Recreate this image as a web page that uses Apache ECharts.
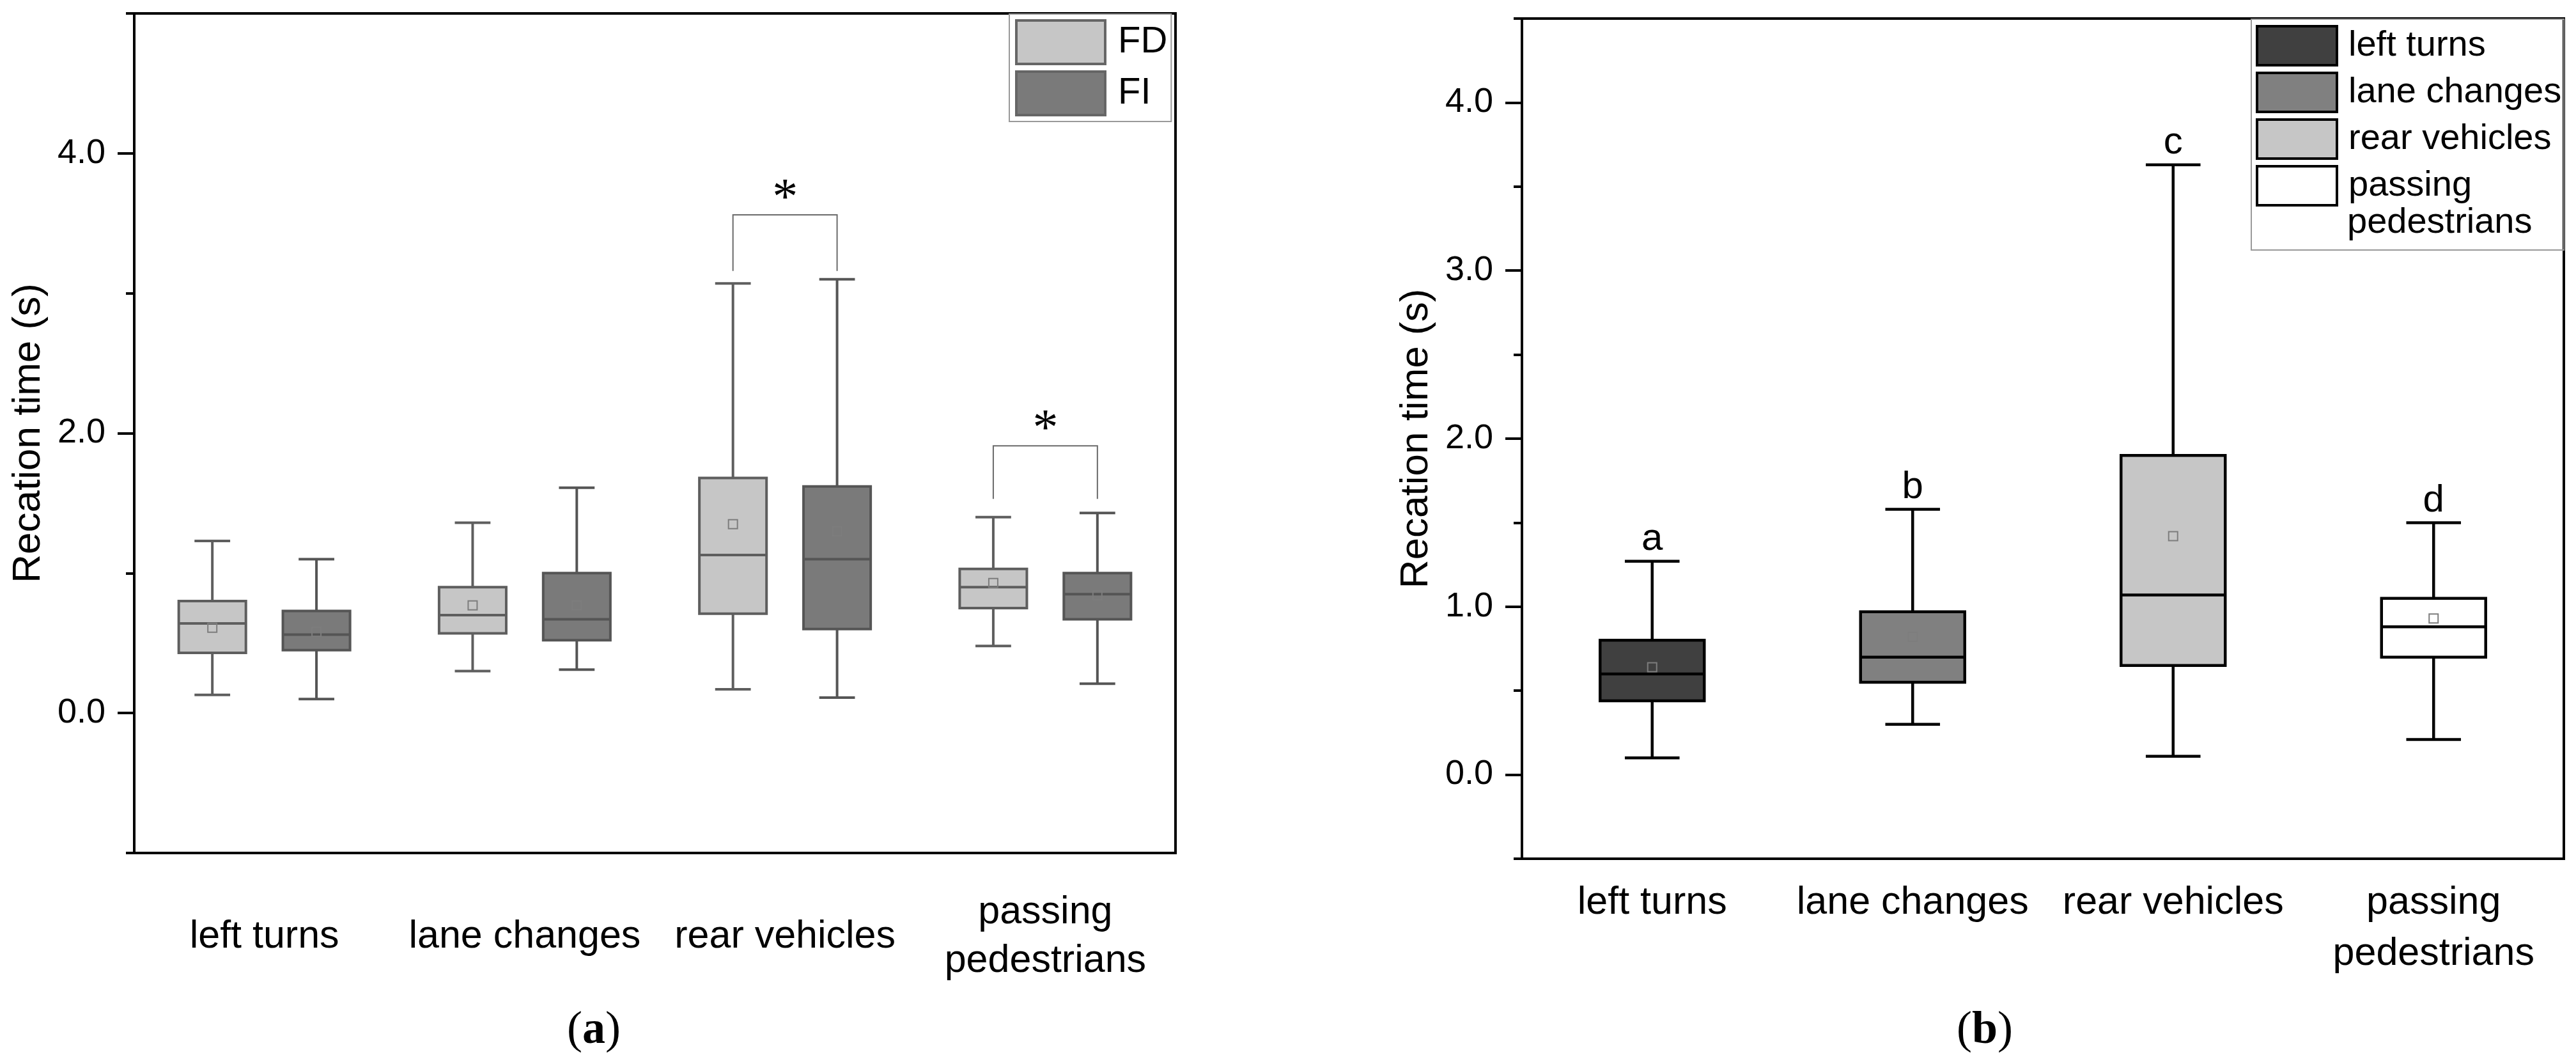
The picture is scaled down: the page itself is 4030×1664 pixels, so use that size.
<!DOCTYPE html>
<html>
<head>
<meta charset="utf-8">
<script src="https://cdn.jsdelivr.net/npm/echarts@6/dist/echarts.min.js"></script>
<style>
  html, body { margin: 0; padding: 0; background: #fff; }
  #main { width: 4030px; height: 1664px; }
</style>
</head>
<body>
<div id="main"></div>
<script>
// categories shared by both panels
const categories = ['left turns', 'lane changes', 'rear vehicles', 'passing\npedestrians'];

// panel (a): [min, Q1, median, Q3, max] per category, plus means
const fdBox = [
  [0.13, 0.43, 0.64, 0.80, 1.23],
  [0.30, 0.57, 0.70, 0.90, 1.36],
  [0.17, 0.71, 1.13, 1.68, 3.07],
  [0.48, 0.75, 0.90, 1.03, 1.40]
];
const fdMean = [0.61, 0.77, 1.35, 0.93];
const fiBox = [
  [0.10, 0.45, 0.56, 0.73, 1.10],
  [0.31, 0.52, 0.67, 1.00, 1.61],
  [0.11, 0.60, 1.10, 1.62, 3.10],
  [0.21, 0.67, 0.85, 1.00, 1.43]
];
const fiMean = [0.58, 0.77, 1.30, 0.84];

// significance brackets in panel (a)
const sigCategory = [2, 3];
const sigTop = [3.56, 1.91];
const sigLegEnd = [3.16, 1.53];
const sigMark = ['*', '*'];

// panel (b)
const allBox = [
  [0.10, 0.44, 0.60, 0.80, 1.27],
  [0.30, 0.55, 0.70, 0.97, 1.58],
  [0.11, 0.65, 1.07, 1.90, 3.63],
  [0.21, 0.70, 0.88, 1.05, 1.50]
];
const allMean = [0.64, 0.82, 1.42, 0.93];
const groupLetters = ['a', 'b', 'c', 'd'];
const groupColors = ['#404040', '#808080', '#c6c6c6', '#ffffff'];

// y axis ticks
const aMajorTicks = [0, 2, 4];
const aMinorTicks = [-1, 1, 3, 5];
const bMajorTicks = [0, 1, 2, 3, 4];
const bMinorTicks = [-0.5, 0.5, 1.5, 2.5, 3.5, 4.5];

const SANS = '"Liberation Sans", Arial, sans-serif';
const SERIF = '"Liberation Serif", "Times New Roman", serif';

const chart = echarts.init(document.getElementById('main'));

function drawBox(opt) {
  return function (params, api) {
    const cat = api.value(0);
    const band = api.size([1, 0])[0];
    const cx = api.coord([cat, 0])[0] + opt.offset * band;
    const y = function (i) { return api.coord([cat, api.value(i)])[1]; };
    const bw = opt.box * band;
    const cw = opt.cap * band;
    const line = { stroke: opt.stroke, lineWidth: opt.width };
    const ms = 14;
    const children = [
      { type: 'line', shape: { x1: cx, y1: y(2), x2: cx, y2: y(1) }, style: line },
      { type: 'line', shape: { x1: cx, y1: y(4), x2: cx, y2: y(5) }, style: line },
      { type: 'line', shape: { x1: cx - cw / 2, y1: y(1), x2: cx + cw / 2, y2: y(1) }, style: line },
      { type: 'line', shape: { x1: cx - cw / 2, y1: y(5), x2: cx + cw / 2, y2: y(5) }, style: line },
      { type: 'rect', shape: { x: cx - bw / 2, y: y(4), width: bw, height: y(2) - y(4) },
        style: { fill: api.visual('color'), stroke: opt.stroke, lineWidth: opt.width } },
      { type: 'line', shape: { x1: cx - bw / 2, y1: y(3), x2: cx + bw / 2, y2: y(3) }, style: line },
      { type: 'rect', shape: { x: cx - ms / 2, y: y(6) - ms / 2, width: ms, height: ms },
        style: { fill: 'none', stroke: '#7d7d7d', lineWidth: 2 } }
    ];
    if (opt.letter) {
      children.push({ type: 'text', x: cx, y: y(5) - 4,
        style: { text: opt.letter, fontSize: 60, fontFamily: SANS, fill: '#000', align: 'center', verticalAlign: 'bottom' } });
    }
    return { type: 'group', children: children };
  };
}

function drawSig(params, api) {
  const cat = api.value(0);
  const band = api.size([1, 0])[0];
  const c = api.coord([cat, api.value(1)]);
  const yl = api.coord([cat, api.value(2)])[1];
  const xl = c[0] - 0.2 * band;
  const xr = c[0] + 0.2 * band;
  return { type: 'group', children: [
    { type: 'polyline', shape: { points: [[xl, yl], [xl, c[1]], [xr, c[1]], [xr, yl]] },
      style: { fill: 'none', stroke: '#6a6a6a', lineWidth: 2 } },
    { type: 'text', x: c[0], y: c[1] - 23,
      style: { text: sigMark[params.dataIndex], fontSize: 80, fontFamily: SERIF, fill: '#000', align: 'center', verticalAlign: 'middle' } }
  ] };
}

function rows(box, mean) {
  return box.map(function (b, i) { return [i].concat(b, [mean[i]]); });
}

function yAxes(gridIndex, min, max, major, minor) {
  const ls = { color: '#000', width: 4 };
  return [
    { type: 'value', gridIndex: gridIndex, min: min, max: max, position: 'left',
      axisLine: { show: true, onZero: false, lineStyle: ls },
      axisTick: { show: true, customValues: major, length: 26, lineStyle: ls },
      axisLabel: { customValues: major, formatter: function (v) { return v.toFixed(1); },
        fontSize: 54, fontFamily: SANS, color: '#000', margin: 45 },
      splitLine: { show: false },
      name: 'Recation time (s)', nameLocation: 'middle', nameGap: 134,
      nameTextStyle: { fontSize: 62, fontFamily: SANS, color: '#000' } },
    { type: 'value', gridIndex: gridIndex, min: min, max: max, position: 'left', offset: 0,
      axisLine: { show: false },
      axisTick: { show: true, customValues: minor, length: 13, lineStyle: ls },
      axisLabel: { show: false }, splitLine: { show: false } }
  ];
}

function xAxis(gridIndex, label) {
  const ls = { color: '#000', width: 4 };
  return { type: 'category', gridIndex: gridIndex, data: categories, boundaryGap: true,
    axisLine: { onZero: false, lineStyle: ls },
    axisTick: { alignWithLabel: true, length: 25, lineStyle: ls },
    axisLabel: Object.assign({ interval: 0, fontSize: 61, fontFamily: SANS, color: '#000' }, label) };
}

const seriesB = categories.map(function (name, i) {
  return { name: name, type: 'custom', xAxisIndex: 1, yAxisIndex: 2,
    itemStyle: { color: groupColors[i] },
    encode: { x: 0, y: [1, 2, 3, 4, 5, 6] },
    data: [[i].concat(allBox[i], [allMean[i]])],
    renderItem: drawBox({ offset: 0, box: 0.4, cap: 0.21, stroke: '#000', width: 4.5, letter: groupLetters[i] }) };
});

const option = {
  animation: false,
  backgroundColor: '#fff',
  grid: [
    { left: 210, top: 21, right: 2191, bottom: 330, show: true, borderColor: '#000', borderWidth: 4, outerBoundsMode: 'none' },
    { left: 2381, top: 29, right: 19, bottom: 321, show: true, borderColor: '#000', borderWidth: 4, outerBoundsMode: 'none' }
  ],
  xAxis: [
    xAxis(0, { verticalAlign: 'middle', margin: 131, lineHeight: 76 }),
    xAxis(1, { verticalAlign: 'top', margin: 29, lineHeight: 80 })
  ],
  yAxis: yAxes(0, -1, 5, aMajorTicks, aMinorTicks).concat(yAxes(1, -0.5, 4.5, bMajorTicks, bMinorTicks)),
  legend: [
    { data: ['FD', 'FI'], orient: 'vertical', left: 1579, top: 22, padding: [8, 6, 8, 9],
      icon: 'rect', itemWidth: 139, itemHeight: 68, itemGap: 8,
      borderColor: '#999', borderWidth: 2,
      itemStyle: { borderColor: '#666', borderWidth: 4 },
      textStyle: { fontSize: 58, fontFamily: SANS, color: '#000', padding: [0, 0, 0, 15] } },
    { data: categories, orient: 'vertical', left: 3522, top: 30, padding: [9, 4, 68, 7],
      icon: 'rect', itemWidth: 125, itemHeight: 61, itemGap: 8,
      borderColor: '#999', borderWidth: 2,
      itemStyle: { borderColor: '#000', borderWidth: 4 },
      formatter: function (name) { return name.split('\n')[0]; },
      textStyle: { fontSize: 56, fontFamily: SANS, color: '#000', padding: [0, 0, 0, 13] } }
  ],
  graphic: [
    { type: 'text', x: 3672, y: 349,
      style: { text: categories[3].split('\n')[1], fontSize: 56, fontFamily: SANS, fill: '#000', align: 'left', verticalAlign: 'middle' } },
    { type: 'text', x: 929, y: 1612,
      style: { text: '({b|a})', fontSize: 72, fontFamily: SERIF, fill: '#000', align: 'center', verticalAlign: 'middle',
        rich: { b: { fontSize: 72, fontFamily: SERIF, fontWeight: 'bold' } } } },
    { type: 'text', x: 3105, y: 1612,
      style: { text: '({b|b})', fontSize: 72, fontFamily: SERIF, fill: '#000', align: 'center', verticalAlign: 'middle',
        rich: { b: { fontSize: 72, fontFamily: SERIF, fontWeight: 'bold' } } } }
  ],
  series: [
    { name: 'FD', type: 'custom', xAxisIndex: 0, yAxisIndex: 0,
      itemStyle: { color: '#c6c6c6' },
      encode: { x: 0, y: [1, 2, 3, 4, 5, 6] },
      data: rows(fdBox, fdMean),
      renderItem: drawBox({ offset: -0.2, box: 0.258, cap: 0.137, stroke: '#5e5e5e', width: 4 }) },
    { name: 'FI', type: 'custom', xAxisIndex: 0, yAxisIndex: 0,
      itemStyle: { color: '#7a7a7a' },
      encode: { x: 0, y: [1, 2, 3, 4, 5, 6] },
      data: rows(fiBox, fiMean),
      renderItem: drawBox({ offset: 0.2, box: 0.258, cap: 0.137, stroke: '#555555', width: 4 }) },
    { name: 'significance', type: 'custom', xAxisIndex: 0, yAxisIndex: 0,
      encode: { x: 0, y: [1, 2] },
      data: sigCategory.map(function (c, i) { return [c, sigTop[i], sigLegEnd[i]]; }),
      renderItem: drawSig }
  ].concat(seriesB)
};

chart.setOption(option);
</script>
</body>
</html>
